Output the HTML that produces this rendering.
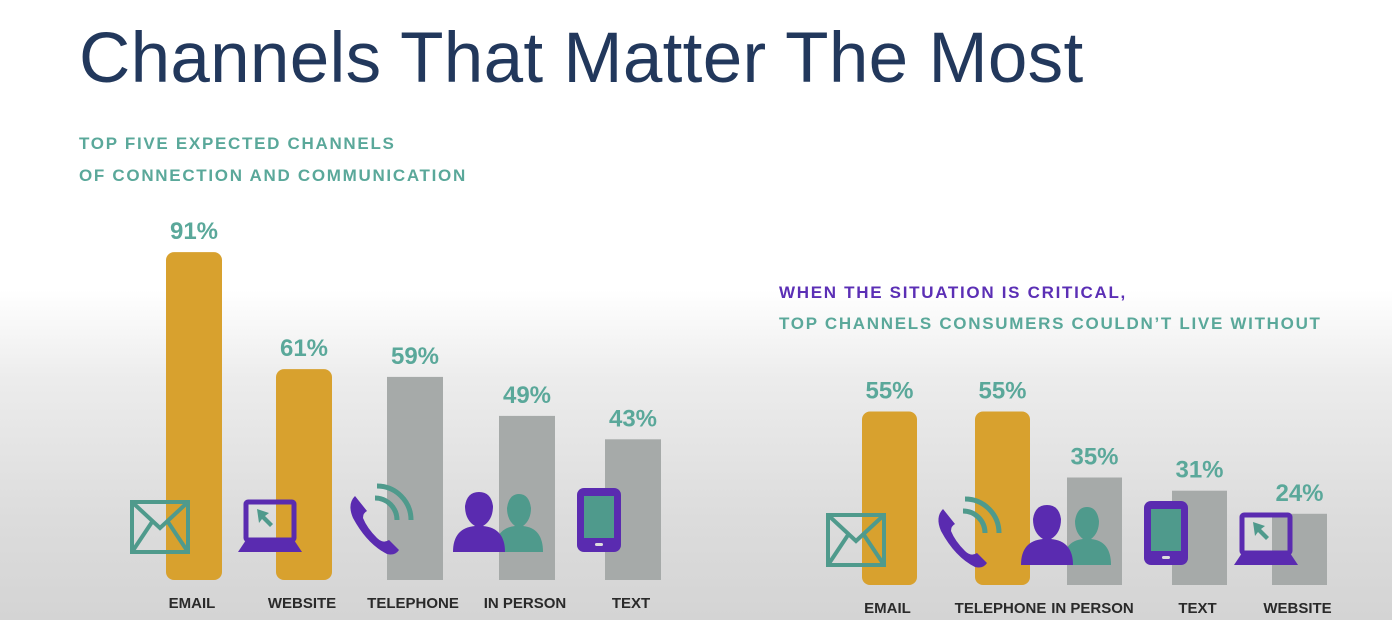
<!DOCTYPE html>
<html><head><meta charset="utf-8"><style>
body{margin:0;width:1392px;height:620px;overflow:hidden;font-family:"Liberation Sans",sans-serif;}
#bg{position:absolute;left:0;top:0;width:1392px;height:620px;background:linear-gradient(#ffffff 0px,#ffffff 290px,#ececec 380px,#dcdcdc 520px,#d4d4d4 620px);}
h1{position:absolute;left:79px;top:18px;margin:0;font-weight:normal;font-size:71px;color:#22385c;letter-spacing:0.3px;}
.sub{position:absolute;font-weight:bold;font-size:17px;letter-spacing:1.7px;color:#5aa89a;}
svg{position:absolute;left:0;top:0;}
</style></head><body>
<div id="bg"></div>
<h1>Channels That Matter The Most</h1>
<div class="sub" style="left:79px;top:134px">TOP FIVE EXPECTED CHANNELS</div>
<div class="sub" style="left:79px;top:166px">OF CONNECTION AND COMMUNICATION</div>
<div class="sub" style="left:779px;top:283px;color:#5b2fb5">WHEN THE SITUATION IS CRITICAL,</div>
<div class="sub" style="left:779px;top:314px">TOP CHANNELS CONSUMERS COULDN’T LIVE WITHOUT</div>
<svg id="chart" width="1392" height="620"></svg>
<script>
const leftCats=["EMAIL","WEBSITE","TELEPHONE","IN PERSON","TEXT"];
const leftVals=[91,61,59,49,43];
const leftHi=[true,true,false,false,false];
const rightCats=["EMAIL","TELEPHONE","IN PERSON","TEXT","WEBSITE"];
const rightVals=[55,55,35,31,24];
const rightHi=[true,true,false,false,false];
const NS="http://www.w3.org/2000/svg";
const svg=document.getElementById('chart');
function mk(t,a,parent){const e=document.createElementNS(NS,t);for(const k in a)e.setAttribute(k,a[k]);(parent||svg).appendChild(e);return e;}
const purple="#5a2bb0",teal="#4f9a8c";
function icon(type,cx,by,g){
  if(type==="EMAIL"){mk('rect',{x:cx-28,y:by-52,width:56,height:50,fill:'none',stroke:teal,'stroke-width':4},g);
    mk('polyline',{points:`${cx-28},${by-52} ${cx},${by-26} ${cx+28},${by-52}`,fill:'none',stroke:teal,'stroke-width':4},g);
    mk('polyline',{points:`${cx-28},${by-2} ${cx-8},${by-32}`,stroke:teal,'stroke-width':4},g);
    mk('polyline',{points:`${cx+28},${by-2} ${cx+8},${by-32}`,stroke:teal,'stroke-width':4},g);}
  else if(type==="WEBSITE"){mk('rect',{x:cx-24,y:by-52,width:48,height:38,fill:'none',stroke:purple,'stroke-width':5,rx:2},g);
    mk('path',{d:`M${cx-32},${by-2} L${cx-24},${by-14} L${cx+24},${by-14} L${cx+32},${by-2} Z`,fill:purple},g);
    mk('path',{d:`M${cx-13},${by-45} l12,4 l-4,3 l8,8 l-3,3 l-8,-8 l-3,4 Z`,fill:teal},g);}
  else if(type==="TELEPHONE"){mk('path',{d:`M${cx-26},${by-58} q-8,8 -2,22 q14,26 34,36 q8,2 12,-4 l-10,-10 q-6,4 -12,-2 q-10,-10 -14,-20 q0,-5 4,-7 z`,fill:purple},g);
    mk('path',{d:`M${cx-6},${by-56} a22,22 0 0 1 22,22`,fill:'none',stroke:teal,'stroke-width':5},g);
    mk('path',{d:`M${cx-4},${by-68} a34,34 0 0 1 34,34`,fill:'none',stroke:teal,'stroke-width':5},g);}
  else if(type==="IN PERSON"){mk('path',{d:`M${cx+2},${by-2} q0,-24 20,-26 q-8,-6 -8,-18 q2,-14 12,-14 q10,0 12,14 q0,12 -8,18 q20,2 20,26 z`,fill:teal},g);
    mk('path',{d:`M${cx-40},${by-2} q0,-24 22,-26 q-10,-6 -10,-20 q2,-14 14,-14 q12,0 14,14 q0,14 -10,20 q22,2 22,26 z`,fill:purple},g);}
  else if(type==="TEXT"){mk('rect',{x:cx-22,y:by-66,width:44,height:64,rx:7,fill:purple},g);
    mk('rect',{x:cx-15,y:by-58,width:30,height:42,fill:teal},g);
    mk('rect',{x:cx-4,y:by-11,width:8,height:3,rx:1.5,fill:'#ddd'},g);}
}
function drawChart(cats,vals,hi,xs,bw,base,scale,off,iconOff,iconLift,name){
  const g=mk('g',{});
  
  
  const y=v=>base-(scale*v-off);
  cats.forEach((c,i)=>{
    const x=xs[i], top=y(vals[i]);
    const b=mk('rect',{x:x,y:top,width:bw,height:base-top,rx:hi[i]?8:0,fill:hi[i]?'#d8a12e':'#a6aaa9'},g);
    
    
    const t=mk('text',{x:x+bw/2,y:top-13,'text-anchor':'middle','font-size':24,'font-weight':'bold',fill:'#5aa89a','font-family':'Liberation Sans, sans-serif'},g);
    t.textContent=vals[i]+'%';
    
    
    const l=mk('text',{x:x+bw/2-2,y:base+28,'text-anchor':'middle','font-size':15,'font-weight':'bold',fill:'#2a2a2a','font-family':'Liberation Sans, sans-serif'},g);
    l.textContent=c;
    
    
    const ig=mk('g',{},g);
    
    
    icon(c,x+iconOff,base-iconLift,ig);
  });
}
drawChart(leftCats,leftVals,leftHi,[166,276,387,499,605],56,580,3.9,27,-6,26,'left-chart');
drawChart(rightCats,rightVals,rightHi,[862,975,1067,1172,1272],55,585,3.3,8,-6,18,'right-chart');
</script>
</body></html>
